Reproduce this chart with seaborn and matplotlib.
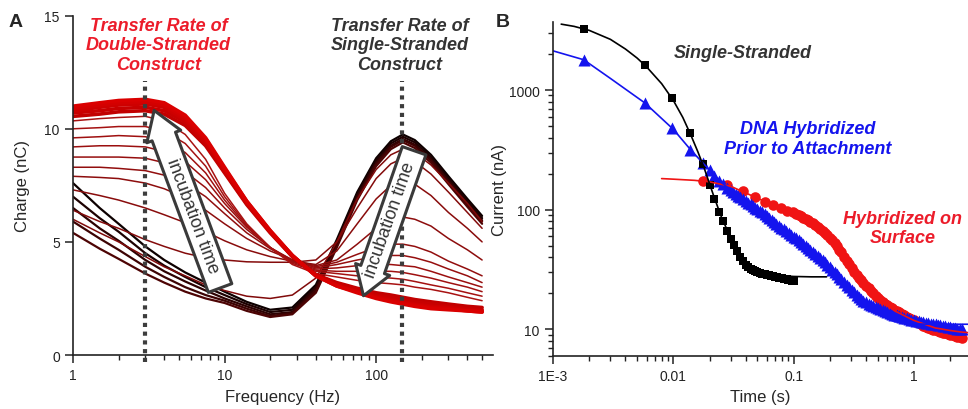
import matplotlib
matplotlib.use("Agg")
import matplotlib.pyplot as plt
from matplotlib.ticker import LogLocator, NullFormatter
import numpy as np
import pandas as pd
import seaborn as sns

# ---------------- panel A: charge vs frequency, incubation series ----------------
freq_hz = [1, 1.5, 2, 3, 4, 5.5, 7.5, 10, 14, 20, 28, 40, 55, 75, 100, 125, 150, 180, 230, 300, 400, 500]

# early incubation (single-stranded response), darkest first
charge_early = [
    [7.6, 6.5, 5.8, 4.8, 4.2, 3.65, 3.2, 2.8, 2.35, 2.0, 2.1, 3.1, 5.1, 7.2, 8.7, 9.45, 9.75, 9.5, 8.85, 7.9, 6.9, 6.15],
    [7.0, 6.05, 5.45, 4.5, 3.95, 3.45, 3.0, 2.65, 2.25, 1.9, 2.0, 3.0, 5.0, 7.1, 8.6, 9.35, 9.65, 9.4, 8.75, 7.8, 6.8, 6.05],
    [6.5, 5.6, 5.05, 4.2, 3.7, 3.25, 2.85, 2.5, 2.15, 1.8, 1.9, 2.95, 4.95, 7.0, 8.5, 9.25, 9.55, 9.3, 8.65, 7.7, 6.7, 5.95],
    [5.9, 5.15, 4.65, 3.9, 3.45, 3.0, 2.65, 2.4, 2.05, 1.72, 1.85, 2.85, 4.85, 6.95, 8.45, 9.2, 9.5, 9.25, 8.6, 7.65, 6.65, 5.9],
    [5.4, 4.7, 4.25, 3.6, 3.2, 2.8, 2.5, 2.3, 1.95, 1.68, 1.8, 2.75, 4.75, 6.85, 8.35, 9.1, 9.4, 9.15, 8.5, 7.55, 6.55, 5.8],
]

# transition curves
charge_mid = [
    [6.0, 5.4, 5.0, 4.35, 3.9, 3.5, 3.1, 2.85, 2.6, 2.5, 2.65, 3.4, 5.0, 6.9, 8.2, 8.85, 9.1, 8.95, 8.4, 7.6, 6.7, 5.9],
    [6.4, 5.9, 5.6, 5.1, 4.8, 4.5, 4.3, 4.2, 4.12, 4.1, 4.1, 4.2, 5.0, 6.5, 7.8, 8.45, 8.7, 8.55, 8.0, 7.2, 6.3, 5.6],
    [7.3, 7.05, 6.85, 6.5, 6.2, 5.85, 5.45, 5.05, 4.65, 4.35, 4.15, 4.0, 4.6, 5.8, 6.9, 7.5, 7.7, 7.55, 7.05, 6.3, 5.6, 5.0],
    [7.9, 7.85, 7.8, 7.6, 7.35, 6.95, 6.4, 5.8, 5.15, 4.6, 4.2, 3.95, 4.2, 4.9, 5.6, 6.0, 6.1, 6.0, 5.7, 5.15, 4.65, 4.2],
    [8.3, 8.3, 8.25, 8.15, 7.95, 7.6, 7.0, 6.25, 5.4, 4.7, 4.2, 3.9, 4.1, 4.45, 4.75, 4.9, 4.9, 4.8, 4.55, 4.15, 3.8, 3.5],
    [8.75, 8.75, 8.75, 8.7, 8.5, 8.1, 7.4, 6.5, 5.55, 4.75, 4.2, 3.85, 4.0, 4.2, 4.35, 4.4, 4.4, 4.3, 4.1, 3.8, 3.5, 3.2],
    [9.2, 9.25, 9.25, 9.2, 9.0, 8.55, 7.75, 6.7, 5.65, 4.75, 4.15, 3.8, 3.85, 3.95, 4.0, 4.0, 3.95, 3.9, 3.7, 3.45, 3.2, 3.0],
    [9.6, 9.65, 9.7, 9.65, 9.45, 8.95, 8.05, 6.85, 5.7, 4.75, 4.1, 3.75, 3.7, 3.7, 3.7, 3.7, 3.65, 3.55, 3.4, 3.2, 3.0, 2.8],
    [10.0, 10.05, 10.1, 10.1, 9.9, 9.35, 8.35, 7.0, 5.75, 4.75, 4.05, 3.7, 3.6, 3.5, 3.45, 3.4, 3.35, 3.25, 3.1, 2.95, 2.75, 2.6],
    [10.35, 10.45, 10.5, 10.55, 10.35, 9.75, 8.65, 7.15, 5.8, 4.75, 4.0, 3.6, 3.45, 3.3, 3.2, 3.15, 3.1, 3.0, 2.9, 2.75, 2.55, 2.4],
]

# late incubation (double-stranded response)
charge_late = [
    [10.55, 10.65, 10.75, 10.8, 10.65, 10.15, 9.25, 8.05, 6.65, 5.4, 4.35, 3.55, 3.2, 2.95, 2.75, 2.65, 2.55, 2.45, 2.35, 2.25, 2.15, 2.1],
    [10.7, 10.8, 10.9, 10.95, 10.8, 10.3, 9.35, 8.1, 6.7, 5.45, 4.35, 3.55, 3.15, 2.9, 2.65, 2.55, 2.45, 2.35, 2.25, 2.15, 2.05, 2.0],
    [10.8, 10.95, 11.05, 11.1, 10.95, 10.4, 9.45, 8.2, 6.75, 5.45, 4.4, 3.5, 3.1, 2.8, 2.6, 2.45, 2.35, 2.25, 2.15, 2.1, 2.0, 1.95],
    [10.9, 11.05, 11.15, 11.2, 11.05, 10.5, 9.55, 8.25, 6.8, 5.5, 4.4, 3.5, 3.05, 2.8, 2.55, 2.4, 2.3, 2.2, 2.1, 2.05, 1.95, 1.9],
    [11.0, 11.15, 11.25, 11.3, 11.15, 10.6, 9.6, 8.3, 6.8, 5.5, 4.4, 3.5, 3.05, 2.75, 2.5, 2.35, 2.25, 2.15, 2.05, 2.0, 1.95, 1.9],
]

# ---------------- panel B: current transients ----------------
ss_time = [0.0018, 0.0058, 0.0098, 0.0138, 0.0178, 0.020, 0.022, 0.024, 0.026, 0.028, 0.030, 0.032,
           0.034, 0.036, 0.038, 0.040, 0.042, 0.044, 0.046, 0.048, 0.050, 0.0525, 0.055, 0.0575,
           0.060, 0.0625, 0.065, 0.0675, 0.070, 0.0725, 0.075, 0.0775, 0.080, 0.0825, 0.085,
           0.0875, 0.090, 0.0925, 0.095, 0.0975, 0.100]
ss_current = [3230, 1625, 850, 434, 240, 160, 122, 96, 80, 67, 57, 51,
              45, 40, 37, 34.5, 33, 32, 31.2, 30.6, 30.1, 29.7, 29.3, 28.9,
              28.6, 28.3, 28.0, 27.7, 27.5, 27.3, 27.1, 26.9, 26.7, 26.5, 26.3,
              26.15, 26.0, 25.85, 25.7, 25.55, 25.4]
ss_fit_time = [0.00117, 0.0015, 0.002, 0.003, 0.004, 0.005, 0.006, 0.008, 0.01, 0.012, 0.014, 0.016,
               0.018, 0.02, 0.022, 0.025, 0.03, 0.035, 0.04, 0.045, 0.05, 0.06, 0.08, 0.1, 0.14, 0.188]
ss_fit_current = [3550, 3400, 3150, 2650, 2200, 1850, 1560, 1130, 820, 590, 420, 305,
                  225, 165, 125, 88, 58, 43, 36, 32.5, 30.8, 29.2, 28.1, 27.7, 27.5, 27.5]

pre_time = [0.0018, 0.0058, 0.0098, 0.0138, 0.0178, 0.020, 0.022, 0.024, 0.026, 0.028,
            0.030, 0.0315, 0.033, 0.0345, 0.036, 0.038, 0.040, 0.042, 0.044, 0.046, 0.048, 0.050,
            0.0525, 0.055, 0.0575, 0.060, 0.063, 0.066, 0.069, 0.072, 0.0755, 0.079, 0.083, 0.087,
            0.091, 0.095, 0.100, 0.105, 0.110, 0.115, 0.120, 0.126, 0.132, 0.138, 0.145, 0.152,
            0.159, 0.166, 0.174, 0.182, 0.191, 0.200, 0.21, 0.22, 0.23, 0.24, 0.25, 0.265,
            0.28, 0.29, 0.305, 0.32, 0.335, 0.35, 0.365, 0.38, 0.40, 0.42, 0.44, 0.46,
            0.48, 0.50, 0.525, 0.55, 0.575, 0.60, 0.63, 0.66, 0.69, 0.72, 0.755, 0.79,
            0.83, 0.87, 0.91, 0.95, 1.0, 1.05, 1.1, 1.15, 1.2, 1.26, 1.32, 1.38,
            1.45, 1.52, 1.59, 1.66, 1.74, 1.82, 1.91, 2.0, 2.1, 2.2, 2.3, 2.4, 2.5]
pre_current = [1790, 777, 478, 315, 245, 214, 190, 175, 163, 152,
               145, 140, 136, 131, 127, 122, 118, 114, 111, 107.5, 104, 101,
               98, 95, 92, 89, 85.5, 82, 79, 76, 73.5, 71, 68.5, 66,
               64, 62, 59.5, 57.5, 55.5, 54, 52, 50, 48, 46, 44, 42.5,
               41, 39.5, 38, 36.5, 34.5, 33, 31.5, 30, 28.8, 27.5, 26.5, 25,
               23.5, 22.5, 21.5, 20.5, 19.5, 18.7, 18.0, 17.4, 16.9, 16.4, 16.0, 15.7,
               15.4, 15.2, 14.9, 14.6, 14.35, 14.1, 13.8, 13.5, 13.3, 13.1, 12.9, 12.7,
               12.55, 12.4, 12.25, 12.1, 11.95, 11.8, 11.7, 11.6, 11.5, 11.4, 11.3, 11.2,
               11.1, 11.0, 10.9, 10.8, 10.7, 10.6, 10.5, 10.4, 10.3, 10.2, 10.12, 10.05, 10.0]
pre_fit_time = [0.001, 0.0018, 0.003, 0.0058, 0.01, 0.014, 0.018, 0.025, 0.035, 0.05, 0.07, 0.1,
                0.15, 0.2, 0.26, 0.35, 0.4, 0.5, 0.6, 0.7, 0.85, 1.0, 1.5, 2.0, 2.82]
pre_fit_current = [2124, 1790, 1250, 780, 470, 315, 240, 170, 128, 100, 77, 60,
                   43, 33, 25, 19, 16.5, 13.8, 12.3, 11.6, 11.2, 11.1, 11.05, 11.05, 11.05]

surf_time = [0.0178, 0.028, 0.038, 0.048, 0.058, 0.068, 0.078, 0.088, 0.098,
             0.105, 0.110, 0.115, 0.120, 0.126, 0.132, 0.138, 0.145, 0.152,
             0.159, 0.166, 0.174, 0.182, 0.191, 0.200, 0.21, 0.22, 0.23, 0.24, 0.25, 0.265,
             0.28, 0.29, 0.305, 0.32, 0.335, 0.35, 0.365, 0.38, 0.40, 0.42, 0.44, 0.46,
             0.48, 0.50, 0.525, 0.55, 0.575, 0.60, 0.63, 0.66, 0.69, 0.72, 0.755, 0.79,
             0.83, 0.87, 0.91, 0.95, 1.0, 1.05, 1.1, 1.15, 1.2, 1.26, 1.32, 1.38,
             1.45, 1.52, 1.59, 1.66, 1.74, 1.82, 1.91, 2.0, 2.1, 2.2, 2.3, 2.4, 2.5]
surf_current = [174, 160, 144, 127, 117, 109, 103, 98.5, 95,
                92, 90, 88, 86, 84, 81.5, 79, 77, 74.5,
                72, 69.5, 67, 64, 61, 58.5, 55.5, 52.5, 49.5, 46.5, 44, 40.5,
                37.5, 35.5, 32.5, 30.2, 28.5, 27, 25.7, 24.5, 23.2, 22, 21, 20,
                19.2, 18.4, 17.7, 17.0, 16.4, 15.9, 15.4, 15.0, 14.6, 14.2, 13.85, 13.5,
                13.15, 12.8, 12.5, 12.2, 11.9, 11.6, 11.3, 11.0, 10.75, 10.5, 10.3, 10.1,
                9.95, 9.8, 9.65, 9.5, 9.4, 9.3, 9.15, 9.0, 8.9, 8.8, 8.72, 8.65, 8.55]
surf_fit_time = [0.008, 0.01, 0.015, 0.02, 0.03, 0.05, 0.07, 0.1, 0.15, 0.2, 0.26, 0.35,
                 0.5, 0.7, 1.0, 1.5, 2.0, 2.5, 2.85]
surf_fit_current = [182, 180, 176, 171, 157, 125, 107, 93, 75, 58, 41, 27,
                    18.2, 14.2, 11.9, 10.3, 9.8, 9.5, 9.4]

RED_TXT = "#ec1c2a"
BLUE = "#1414ee"
RED = "#f01414"
GRAY_TXT = "#333333"


def long_frame(curves, tag):
    rows = []
    for i, vals in enumerate(curves):
        for f, q in zip(freq_hz, vals):
            rows.append({"curve": f"{tag}{i}", "freq": f, "charge": q})
    return pd.DataFrame(rows)


sns.set_style("ticks")
plt.rcParams["font.family"] = ["Liberation Sans", "DejaVu Sans"]
plt.rcParams["axes.edgecolor"] = "#222222"
plt.rcParams["xtick.color"] = "#222222"
plt.rcParams["ytick.color"] = "#222222"

fig = plt.figure(figsize=(9.68, 4.10), dpi=100)
ax_a = fig.add_axes([0.0754, 0.1317, 0.4339, 0.8276])
ax_b = fig.add_axes([0.5713, 0.1293, 0.4287, 0.8146])

# ---- panel A ----
groups = [
    (charge_early, "e", ["#0d0000", "#4d0404"], 1.6),
    (charge_mid, "m", ["#800a0a", "#a81212"], 1.1),
    (charge_late, "l", ["#c20000", "#da0000"], 2.6),
]
for curves, tag, ends, lw in groups:
    df = long_frame(curves, tag)
    order = [f"{tag}{i}" for i in range(len(curves))]
    sns.lineplot(data=df, x="freq", y="charge", hue="curve", hue_order=order,
                 palette=sns.blend_palette(ends, len(curves)), lw=lw,
                 estimator=None, sort=False, legend=False, ax=ax_a)

ax_a.set_xscale("log")
ax_a.set_xlim(1, 590)
ax_a.set_ylim(0, 15)
ax_a.set_xticks([1, 10, 100], labels=["1", "10", "100"])
ax_a.xaxis.set_minor_locator(LogLocator(base=10, subs=np.arange(2, 10)))
ax_a.xaxis.set_minor_formatter(NullFormatter())
ax_a.set_yticks([0, 5, 10, 15])

ax_a.vlines([3, 148], -0.3, 12.1, colors="#3d3d3d", linestyles=(0, (1, 1.1)),
            lw=3, clip_on=False, zorder=5)

arrow_style = "simple,head_length=2.0,head_width=2.6,tail_width=1.8"
ax_a.annotate("", xy=(3.43, 10.81), xytext=(9.34, 2.96), zorder=6,
              arrowprops=dict(arrowstyle=arrow_style, mutation_scale=10, fc="white",
                              ec="#3a3a3a", lw=2.2, shrinkA=0, shrinkB=0))
ax_a.annotate("", xy=(82.5, 2.62), xytext=(178, 9.03), zorder=6,
              arrowprops=dict(arrowstyle=arrow_style, mutation_scale=10, fc="white",
                              ec="#3a3a3a", lw=2.2, shrinkA=0, shrinkB=0))
ax_a.text(6.1, 6.16, "incubation time", rotation=-69.6, rotation_mode="anchor",
          ha="center", va="center", fontsize=13, color=GRAY_TXT, zorder=7)
ax_a.text(124, 6.02, "incubation time", rotation=70.6, rotation_mode="anchor",
          ha="center", va="center", fontsize=13, color=GRAY_TXT, zorder=7)

ax_a.text(0.204, 0.914, "Transfer Rate of\nDouble-Stranded\nConstruct", transform=ax_a.transAxes,
          ha="center", va="center", fontsize=13, fontweight="bold", fontstyle="italic",
          color=RED_TXT)
ax_a.text(0.778, 0.914, "Transfer Rate of\nSingle-Stranded\nConstruct", transform=ax_a.transAxes,
          ha="center", va="center", fontsize=13, fontweight="bold", fontstyle="italic",
          color=GRAY_TXT)

ax_a.set_xlabel("Frequency (Hz)", fontsize=12)
ax_a.set_ylabel("Charge (nC)", fontsize=12)
ax_a.xaxis.set_label_coords(0.5, -0.10)
ax_a.yaxis.set_label_coords(-0.102, 0.5)

# ---- panel B ----
sns.scatterplot(x=surf_time, y=surf_current, marker="o", s=58, color=RED, linewidth=0, ax=ax_b)
sns.lineplot(x=surf_fit_time, y=surf_fit_current, color=RED, lw=1.2, sort=False, ax=ax_b)
sns.scatterplot(x=pre_time, y=pre_current, marker="^", s=75, color=BLUE, linewidth=0, ax=ax_b)
sns.lineplot(x=pre_fit_time, y=pre_fit_current, color=BLUE, lw=1.2, sort=False, ax=ax_b)
sns.scatterplot(x=ss_time, y=ss_current, marker="s", s=38, color="black", linewidth=0, ax=ax_b)
sns.lineplot(x=ss_fit_time, y=ss_fit_current, color="black", lw=1.2, sort=False, ax=ax_b)

ax_b.set_xscale("log")
ax_b.set_yscale("log")
ax_b.set_xlim(1e-3, 2.82)
ax_b.set_ylim(6, 3700)
ax_b.set_xticks([1e-3, 0.01, 0.1, 1], labels=["1E-3", "0.01", "0.1", "1"])
ax_b.set_yticks([10, 100, 1000], labels=["10", "100", "1000"])
ax_b.xaxis.set_minor_locator(LogLocator(base=10, subs=np.arange(2, 10)))
ax_b.yaxis.set_minor_locator(LogLocator(base=10, subs=np.arange(2, 10)))
ax_b.xaxis.set_minor_formatter(NullFormatter())
ax_b.yaxis.set_minor_formatter(NullFormatter())

ax_b.text(0.458, 0.910, "Single-Stranded", transform=ax_b.transAxes, ha="center", va="center",
          fontsize=13, fontweight="bold", fontstyle="italic", color=GRAY_TXT)
ax_b.text(0.614, 0.651, "DNA Hybridized\nPrior to Attachment", transform=ax_b.transAxes,
          ha="center", va="center", fontsize=13, fontweight="bold", fontstyle="italic", color=BLUE)
ax_b.text(0.843, 0.383, "Hybridized on\nSurface", transform=ax_b.transAxes, ha="center",
          va="center", fontsize=13, fontweight="bold", fontstyle="italic", color=RED_TXT)

ax_b.set_xlabel("Time (s)", fontsize=12)
ax_b.set_ylabel("Current (nA)", fontsize=12)
ax_b.xaxis.set_label_coords(0.5, -0.10)
ax_b.yaxis.set_label_coords(-0.111, 0.5)

for ax in (ax_a, ax_b):
    sns.despine(ax=ax)
    ax.tick_params(which="major", direction="out", length=6, width=1.1, labelsize=10)
    ax.tick_params(which="minor", direction="out", length=3.5, width=1.0)
    for side in ("left", "bottom"):
        ax.spines[side].set_linewidth(1.2)

fig.text(0.0165, 0.946, "A", fontsize=14, fontweight="bold", ha="center", va="center")
fig.text(0.519, 0.944, "B", fontsize=14, fontweight="bold", ha="center", va="center")

fig.savefig("out.png", dpi=100)
